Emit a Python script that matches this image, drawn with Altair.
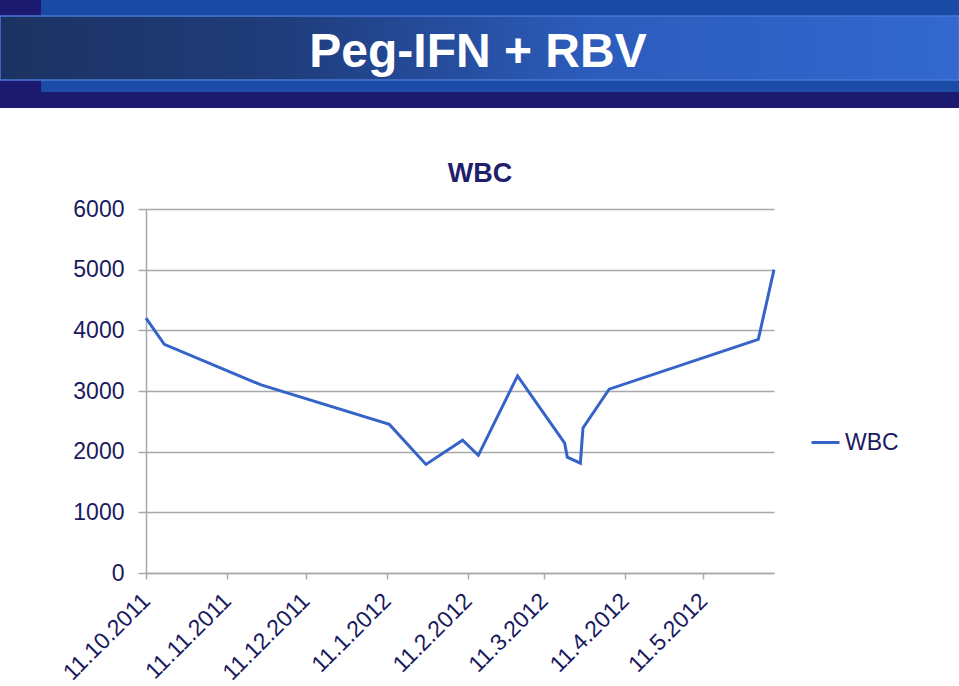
import altair as alt
import pandas as pd

# ---- data ----
dates = ["2011-10-11", "2011-10-18", "2011-11-24", "2012-01-12", "2012-01-26",
         "2012-02-09", "2012-02-15", "2012-03-01", "2012-03-19", "2012-03-20",
         "2012-03-25", "2012-03-26", "2012-04-05", "2012-06-01", "2012-06-07"]
wbc = [4200, 3770, 3100, 2450, 1790,
       2190, 1940, 3250, 2140, 1910,
       1810, 2390, 3030, 3850, 5000]
tick_labels = ["11.10.2011", "11.11.2011", "11.12.2011", "11.1.2012",
               "11.2.2012", "11.3.2012", "11.4.2012", "11.5.2012"]
y_ticks = [0, 1000, 2000, 3000, 4000, 5000, 6000]
series_name = "WBC"
slide_title = "Peg-IFN + RBV"
chart_title = "WBC"

df = pd.DataFrame({"date": dates, "value": wbc, "series": series_name})


def to_dt(s):
    d, m, y = map(int, s.split("."))
    return alt.DateTime(year=y, month=m, date=d, utc=True)


def iso_dt(s):
    y, m, d = map(int, s.split("-"))
    return alt.DateTime(year=y, month=m, date=d, utc=True)


NAVY = "#1a1a5e"
GRID = "#a8a8a8"
LINE = "#3563c8"
FONT = "Liberation Sans"
FS = 23

W, H = 628, 364
L, T = 146, 209
R = 959 - L - W
B = 686 - T - H

one = alt.Data(values=[{"k": 1}])


def band(x0, x1, y0, y1, **kw):
    return alt.Chart(one).mark_rect(clip=False, **kw).encode(
        x=alt.value(x0 - L), x2=alt.value(x1 - L),
        y=alt.value(y0 - T), y2=alt.value(y1 - T))


grad = alt.Gradient(
    gradient="linear",
    stops=[alt.GradientStop(color="#1c3262", offset=0),
           alt.GradientStop(color="#1f3d7c", offset=0.3),
           alt.GradientStop(color="#2c5cbc", offset=0.62),
           alt.GradientStop(color="#3268d0", offset=1)],
    x1=0, x2=1, y1=0, y2=0)

deco = [
    band(0, 959, 0, 16, fill="#1b49a6"),
    band(0, 41, 0, 16, fill="#1c1a6e"),
    band(0, 959, 80, 92, fill="#1d4ba8"),
    band(0, 41, 80, 92, fill="#1c1a6e"),
    band(0, 959, 92, 108, fill="#1c1a6e"),
    band(0, 959, 16, 80, fill=grad, stroke="#4a78d4", strokeWidth=1.5),
    alt.Chart(one).mark_text(text=slide_title, font=FONT, fontSize=48,
                             fontWeight="bold", color="white",
                             align="center", baseline="alphabetic").encode(
        x=alt.value(478 - L), y=alt.value(67 - T)),
    alt.Chart(one).mark_text(text=chart_title, font=FONT, fontSize=27,
                             fontWeight="bold", color="#1f1f6b",
                             align="center", baseline="alphabetic").encode(
        x=alt.value(480 - L), y=alt.value(182 - T)),
]

line = alt.Chart(df).mark_line(strokeWidth=3).encode(
    x=alt.X("date:T",
            scale=alt.Scale(domain=[iso_dt(dates[0]), iso_dt(dates[-1])]),
            axis=alt.Axis(values=[to_dt(s) for s in tick_labels],
                          labelExpr="utcFormat(datum.value, '%-d.%-m.%Y')",
                          labelAngle=-45, labelAlign="right",
                          labelBaseline="middle", labelPadding=18,
                          tickSize=6, tickColor=GRID, tickWidth=1.5,
                          domainColor=GRID, domainWidth=1.5,
                          grid=False, title=None, labelFont=FONT,
                          labelFontSize=FS, labelColor=NAVY,
                          labelOverlap=False, labelBound=False)),
    y=alt.Y("value:Q",
            scale=alt.Scale(domain=[0, 6000], nice=False),
            axis=alt.Axis(values=y_ticks, format="d", tickSize=8,
                          tickColor=GRID, tickWidth=1.5, domainColor=GRID,
                          domainWidth=1.5, gridColor=GRID, gridWidth=1.5,
                          title=None, labelFont=FONT, labelFontSize=FS,
                          labelColor=NAVY, labelPadding=14)),
    color=alt.Color("series:N",
                    scale=alt.Scale(range=[LINE]),
                    legend=alt.Legend(orient="none", legendX=664, legendY=218,
                                      title=None, symbolType="stroke",
                                      symbolStrokeWidth=3, symbolSize=784,
                                      labelFont=FONT, labelFontSize=FS,
                                      labelColor=NAVY, labelOffset=4)),
)

chart = alt.layer(*deco, line).properties(
    width=W, height=H,
    autosize=alt.AutoSizeParams(type="none"),
    padding={"left": L, "top": T, "right": R, "bottom": B},
).configure(background="white").configure_view(strokeWidth=0)

chart.save("out.html", embed_options={"renderer": "svg", "actions": False})
